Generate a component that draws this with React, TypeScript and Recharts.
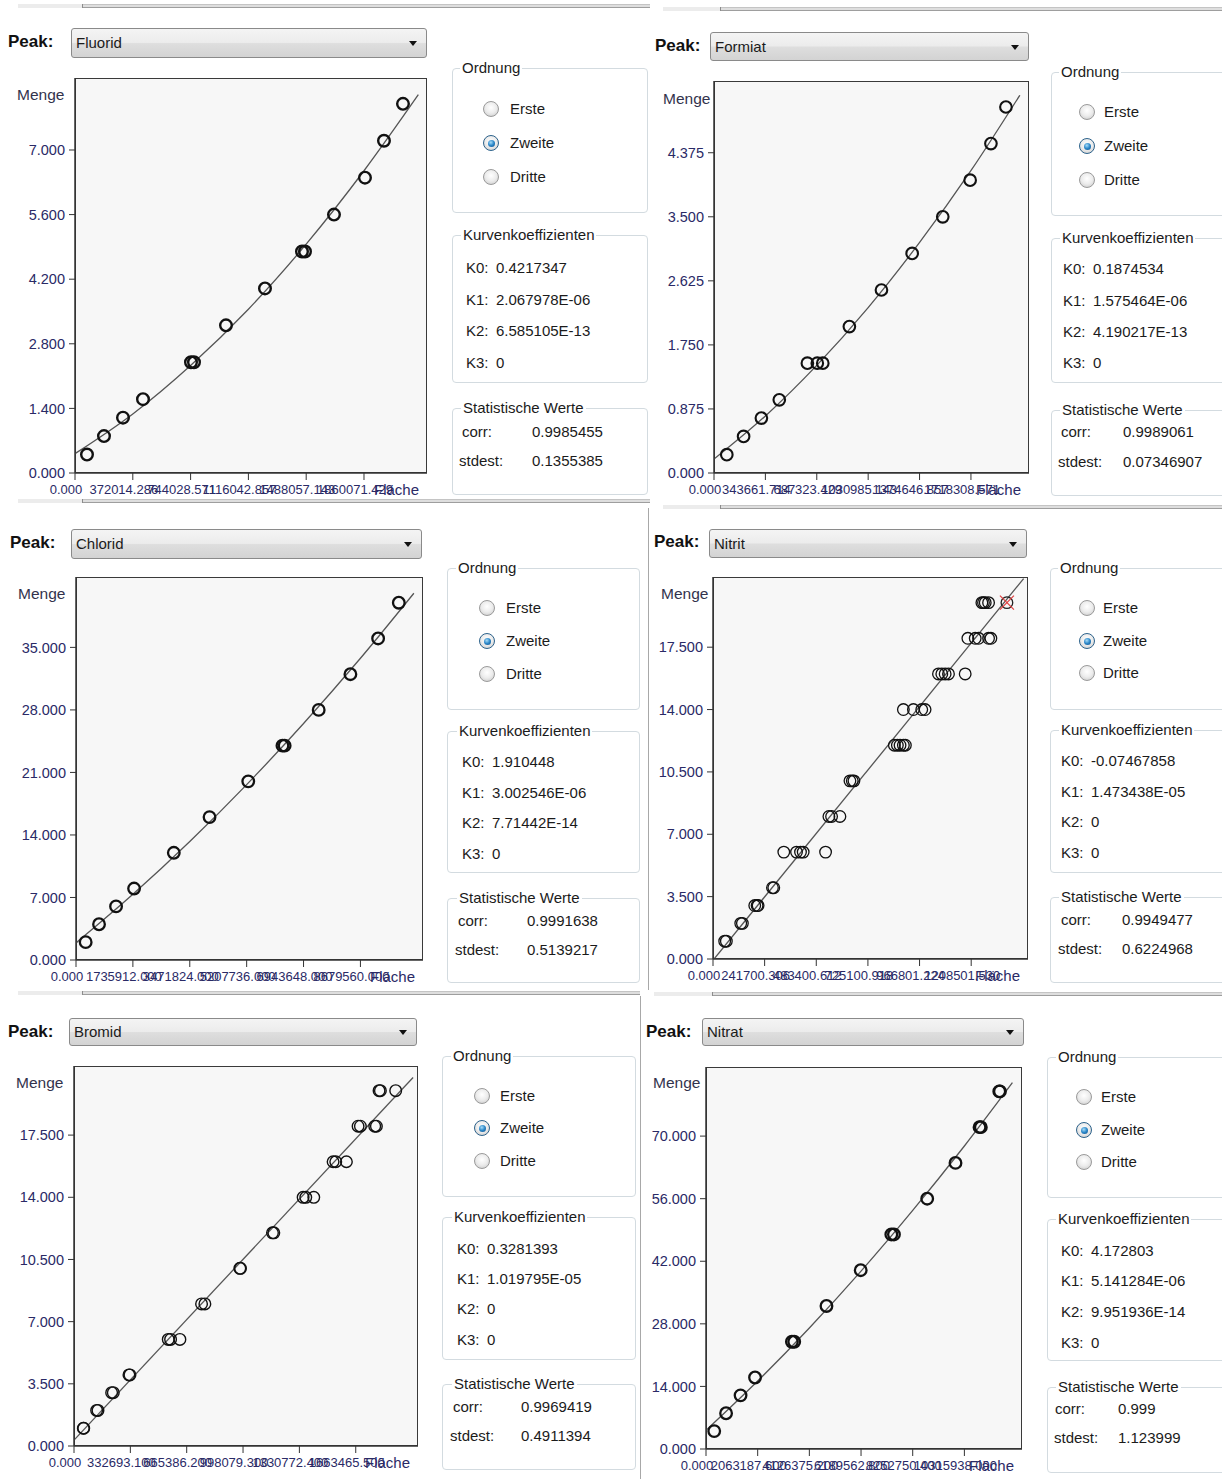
import React from 'react'
import { ComposedChart, Line, Scatter, XAxis, YAxis } from 'recharts'

const FONT = '"Liberation Sans", Arial, sans-serif'
const NAVY = '#2a2a66'
const INK = '#1b1b1b'

// Fluorid: measured points [Fläche, Menge], fitted curve, axis ticks
const fluoridPoints = [
  [77200, 0.4], [186600, 0.8], [308900, 1.2], [437600, 1.6], [746600, 2.4], [765900, 2.4],
  [971800, 3.2], [1222800, 4.0], [1461000, 4.8], [1480300, 4.8], [1666900, 5.6],
  [1866400, 6.4], [1988700, 7.2], [2111000, 8.0]
]
const fluoridFit = [
  [0, 0.42], [372000, 1.28], [744000, 2.33], [1116000, 3.55], [1488000, 4.96], [1860000, 6.55], [2210000, 8.2]
]
const fluoridXTicks = [0, 372014.286, 744028.571, 1116042.857, 1488057.143, 1860071.429]
const fluoridYTicks = [0, 1.4, 2.8, 4.2, 5.6, 7.0]
const fluoridRange = [2265600, 8.56]
const fluoridCoef = ['0.4217347', '2.067978E-06', '6.585105E-13', '0']
const fluoridStats = ['0.9985455', '0.1355385']

// Formiat
const formiatPoints = [
  [85600, 0.25], [197900, 0.5], [316900, 0.75], [436600, 1.0], [624500, 1.5], [690700, 1.5],
  [727400, 1.5], [905300, 2.0], [1119900, 2.5], [1325200, 3.0], [1529800, 3.5], [1713000, 4.0],
  [1852000, 4.5], [1952300, 5.0]
]
const formiatFit = [
  [0, 0.19], [344000, 0.78], [687000, 1.47], [1031000, 2.26], [1375000, 3.15], [1718000, 4.13], [2045000, 5.16]
]
const formiatXTicks = [0, 343661.714, 687323.429, 1030985.143, 1374646.857, 1718308.571]
const formiatYTicks = [0, 0.875, 1.75, 2.625, 3.5, 4.375]
const formiatRange = [2106600, 5.355]
const formiatCoef = ['0.1874534', '1.575464E-06', '4.190217E-13', '0']
const formiatStats = ['0.9989061', '0.07346907']

// Chlorid
const chloridPoints = [
  [295400, 2], [702900, 4], [1222400, 6], [1772500, 8], [2984800, 12], [4074800, 16],
  [5256500, 20], [6300000, 24], [6366900, 24], [7405900, 28], [8373700, 32], [9219200, 36], [9850800, 40]
]
const chloridFit = [
  [0, 1.91], [1736000, 7.35], [3472000, 13.26], [5208000, 19.64], [6944000, 26.48], [8680000, 33.78], [10310000, 41.06]
]
const chloridXTicks = [0, 1735912, 3471824, 5207736, 6943648, 8679560]
const chloridYTicks = [0, 7, 14, 21, 28, 35]
const chloridRange = [10589000, 42.88]
const chloridCoef = ['1.910448', '3.002546E-06', '7.71442E-14', '0']
const chloridStats = ['0.9991638', '0.5139217']

// Nitrit
const nitritPoints = [
  [54700, 1], [62500, 1], [129800, 2], [137600, 2], [195400, 3], [206400, 3], [211100, 3],
  [278300, 4], [284500, 4], [331400, 6], [390900, 6], [409600, 6], [422100, 6], [526900, 6],
  [542500, 8], [555000, 8], [594100, 8], [641000, 10], [651900, 10], [659700, 10],
  [848900, 12], [863000, 12], [875500, 12], [891100, 12], [900500, 12],
  [891100, 14], [938000, 14], [977100, 14], [992700, 14],
  [1055300, 16], [1070900, 16], [1086600, 16], [1102200, 16], [1180400, 16],
  [1192900, 18], [1227300, 18], [1242900, 18], [1289800, 18], [1300700, 18],
  [1258500, 20], [1266000, 20], [1274200, 20], [1289800, 20]
]
const nitritExcluded = [[1375800, 20]]
const nitritFit = [[5000, 0], [1454000, 21.35]]
const nitritXTicks = [0, 241700.306, 483400.612, 725100.918, 966801.224, 1208501.53]
const nitritYTicks = [0, 3.5, 7, 10.5, 14, 17.5]
const nitritRange = [1474400, 21.44]
const nitritCoef = ['-0.07467858', '1.473438E-05', '0', '0']
const nitritStats = ['0.9949477', '0.6224968']

// Bromid
const bromidPoints = [
  [55100, 1], [57500, 1], [133700, 2], [141600, 2], [222200, 3], [232000, 3], [324400, 4], [330300, 4],
  [556500, 6], [570200, 6], [625300, 6], [753100, 8], [772800, 8], [979200, 10], [983000, 10],
  [1171900, 12], [1179800, 12], [1352800, 14], [1368500, 14], [1415700, 14],
  [1529800, 16], [1545500, 16], [1608400, 16], [1677300, 18], [1691000, 18], [1775600, 18],
  [1785400, 18], [1801100, 20], [1809000, 20], [1899400, 20]
]
const bromidFit = [[0, 0.33], [2002000, 20.74]]
const bromidXTicks = [0, 332693.1, 665386.2, 998079.3, 1330772.4, 1663465.5]
const bromidYTicks = [0, 3.5, 7, 10.5, 14, 17.5]
const bromidRange = [2031100, 21.39]
const bromidCoef = ['0.3281393', '1.019795E-05', '0', '0']
const bromidStats = ['0.9969419', '0.4911394']

// Nitrat
const nitratPoints = [
  [328500, 4], [801600, 8], [1379800, 12], [1958100, 16], [3429900, 24], [3521900, 24],
  [4809700, 32], [6176400, 40], [7398600, 48], [7503700, 48], [8831000, 56], [9961100, 64],
  [10920400, 72], [10973000, 72], [11708900, 80], [11735200, 80]
]
const nitratFit = [
  [0, 4.17], [2063000, 15.2], [4126000, 27.08], [6190000, 39.8], [8253000, 53.38], [10316000, 67.79], [12235000, 81.97]
]
const nitratXTicks = [0, 2063187.6, 4126375.2, 6189562.8, 8252750.4, 10315938]
const nitratYTicks = [0, 14, 28, 42, 56, 70]
const nitratRange = [12616000, 85.46]
const nitratCoef = ['4.172803', '5.141284E-06', '9.951936E-14', '0']
const nitratStats = ['0.999', '1.123999']

const toXY = (arr: number[][]) => arr.map(([x, y]) => ({ x, y }))

const panels = [
  {
    name: 'Fluorid', points: fluoridPoints, fit: fluoridFit, xTicks: fluoridXTicks, yTicks: fluoridYTicks,
    range: fluoridRange, coef: fluoridCoef, stats: fluoridStats, ring: 2.4,
    peak: [8, 42], combo: [71, 28, 427, 58], box: [75, 78, 427, 473], menge: [17, 95],
    gx: 452, gw: 196, ord: [68, 213], ordX: 462, radioX: 491, radioY: [109, 143, 177], labelX: 510,
    kur: [235, 383], kurX: 463, kX: 466, kY: [268, 300, 331, 363],
    stat: [408, 495], statX: 463, corr: [462, 432], sd: [459, 461], valX: 532
  },
  {
    name: 'Formiat', points: formiatPoints, fit: formiatFit, xTicks: formiatXTicks, yTicks: formiatYTicks,
    range: formiatRange, coef: formiatCoef, stats: formiatStats, ring: 2.1,
    peak: [655, 46], combo: [710, 32, 1029, 61], box: [714, 81, 1029, 473], menge: [663, 99],
    gx: 1051, gw: 200, ord: [72, 216], ordX: 1061, radioX: 1087, radioY: [112, 146, 180], labelX: 1104,
    kur: [238, 383], kurX: 1062, kX: 1063, kY: [269, 301, 332, 363],
    stat: [410, 496], statX: 1062, corr: [1061, 432], sd: [1058, 462], valX: 1123
  },
  {
    name: 'Chlorid', points: chloridPoints, fit: chloridFit, xTicks: chloridXTicks, yTicks: chloridYTicks,
    range: chloridRange, coef: chloridCoef, stats: chloridStats, ring: 2.3,
    peak: [10, 543], combo: [71, 529, 422, 559], box: [76, 577, 423, 960], menge: [18, 594],
    gx: 447, gw: 193, ord: [568, 710], ordX: 458, radioX: 487, radioY: [608, 641, 674], labelX: 506,
    kur: [731, 873], kurX: 459, kX: 462, kY: [762, 793, 823, 854],
    stat: [898, 983], statX: 459, corr: [458, 921], sd: [455, 950], valX: 527
  },
  {
    name: 'Nitrit', points: nitritPoints, fit: nitritFit, xTicks: nitritXTicks, yTicks: nitritYTicks,
    range: nitritRange, coef: nitritCoef, stats: nitritStats, ring: 1.3, excluded: nitritExcluded,
    peak: [654, 542], combo: [709, 529, 1027, 558], box: [713, 577, 1028, 959], menge: [661, 594],
    gx: 1050, gw: 200, ord: [568, 710], ordX: 1060, radioX: 1087, radioY: [608, 641, 673], labelX: 1103,
    kur: [730, 873], kurX: 1061, kX: 1061, kY: [761, 792, 822, 853],
    stat: [897, 983], statX: 1061, corr: [1061, 920], sd: [1058, 949], valX: 1122
  },
  {
    name: 'Bromid', points: bromidPoints, fit: bromidFit, xTicks: bromidXTicks, yTicks: bromidYTicks,
    range: bromidRange, coef: bromidCoef, stats: bromidStats, ring: 1.4,
    peak: [8, 1032], combo: [69, 1018, 417, 1046], box: [74, 1066, 418, 1446], menge: [16, 1083],
    gx: 442, gw: 194, ord: [1056, 1197], ordX: 453, radioX: 482, radioY: [1096, 1128, 1161], labelX: 500,
    kur: [1217, 1360], kurX: 454, kX: 457, kY: [1249, 1279, 1309, 1340],
    stat: [1384, 1470], statX: 454, corr: [453, 1407], sd: [450, 1436], valX: 521
  },
  {
    name: 'Nitrat', points: nitratPoints, fit: nitratFit, xTicks: nitratXTicks, yTicks: nitratYTicks,
    range: nitratRange, coef: nitratCoef, stats: nitratStats, ring: 2.3,
    peak: [646, 1032], combo: [702, 1018, 1024, 1046], box: [706, 1067, 1022, 1449], menge: [653, 1083],
    gx: 1047, gw: 200, ord: [1057, 1198], ordX: 1058, radioX: 1084, radioY: [1097, 1130, 1162], labelX: 1101,
    kur: [1219, 1361], kurX: 1058, kX: 1061, kY: [1251, 1281, 1312, 1343],
    stat: [1387, 1473], statX: 1058, corr: [1055, 1409], sd: [1054, 1438], valX: 1118
  }
]

const separators = [
  { x: 18, w: 632, y: 4, thumb: 64 },
  { x: 663, w: 560, y: 7, thumb: 57 },
  { x: 18, w: 632, y: 499, thumb: 64 },
  { x: 663, w: 560, y: 505, thumb: 57 },
  { x: 18, w: 622, y: 991, thumb: 64 },
  { x: 654, w: 570, y: 992, thumb: 58 }
]

function XTickLabel(props: any) {
  const { x, y, payload } = props
  return (
    <text x={x - 9} y={y} dy="0.71em" textAnchor="middle" fill={NAVY} fontSize={13} fontFamily={FONT}>
      {Number(payload.value).toFixed(3)}
    </text>
  )
}

function CalChart({ p }: { p: any }) {
  const [L, T, R, B] = p.box
  const w = R - L + 80
  const h = B - T + 40
  const ring = (s: any) => (
    <circle cx={s.cx} cy={s.cy} r={5.8} fill="none" stroke="#111" strokeWidth={p.ring} />
  )
  const crossed = (s: any) => (
    <g>
      <circle cx={s.cx} cy={s.cy} r={5.8} fill="none" stroke="#222" strokeWidth={1.3} />
      <line x1={s.cx - 7} y1={s.cy - 7} x2={s.cx + 7} y2={s.cy + 7} stroke="#e04040" strokeWidth={1.3} />
      <line x1={s.cx - 7} y1={s.cy + 7} x2={s.cx + 7} y2={s.cy - 7} stroke="#e04040" strokeWidth={1.3} />
    </g>
  )
  return (
    <div style={{ position: 'absolute', left: L - 70, top: T - 10, width: w, height: h }}>
      <div
        style={{
          position: 'absolute', left: 70, top: 10, width: R - L, height: B - T,
          background: '#f7f7f7', border: '1.5px solid #3a3a3a', boxSizing: 'border-box'
        }}
      />
      <ComposedChart width={w} height={h} margin={{ top: 10, right: 10, bottom: 0, left: 0 }}>
        <XAxis
          type="number" dataKey="x" domain={[0, p.range[0]]} ticks={p.xTicks} interval={0}
          allowDataOverflow height={30} tickSize={7} tickMargin={5}
          axisLine={{ stroke: '#333', strokeWidth: 1.5 }} tickLine={{ stroke: '#333' }}
          tick={(t: any) => <XTickLabel {...t} />}
        />
        <YAxis
          type="number" dataKey="y" domain={[0, p.range[1]]} ticks={p.yTicks} interval={0}
          allowDataOverflow width={70} tickSize={6} tickMargin={4}
          axisLine={{ stroke: '#333', strokeWidth: 1.5 }} tickLine={{ stroke: '#333' }}
          tick={{ fill: NAVY, fontSize: 14.5, fontFamily: FONT }}
          tickFormatter={(v: number) => v.toFixed(3)}
        />
        <Line
          data={toXY(p.fit)} dataKey="y" type="monotone" stroke="#555" strokeWidth={1.3}
          dot={false} isAnimationActive={false}
        />
        <Scatter data={toXY(p.points)} dataKey="y" shape={ring} isAnimationActive={false} />
        {p.excluded && (
          <Scatter data={toXY(p.excluded)} dataKey="y" shape={crossed} isAnimationActive={false} />
        )}
      </ComposedChart>
      <span
        style={{
          position: 'absolute', right: 18, top: h - 21, fontSize: 15, color: NAVY,
          fontFamily: FONT, lineHeight: '16px', whiteSpace: 'nowrap'
        }}
      >
        Fläche
      </span>
    </div>
  )
}

function Txt({ x, y, children, style }: any) {
  return (
    <div
      style={{
        position: 'absolute', left: x, top: y - 9, lineHeight: '18px', fontSize: 15,
        color: INK, whiteSpace: 'nowrap', ...style
      }}
    >
      {children}
    </div>
  )
}

function GroupBox({ x, w, top, bottom, title, titleX }: any) {
  return (
    <div
      style={{
        position: 'absolute', left: x, top, width: w, height: bottom - top,
        border: '1px solid #d3dbe0', borderRadius: 4, boxSizing: 'border-box'
      }}
    >
      <div
        style={{
          position: 'absolute', left: titleX - x - 3, top: -10, padding: '0 2px', background: '#fff',
          fontSize: 15, lineHeight: '18px', color: INK, whiteSpace: 'nowrap'
        }}
      >
        {title}
      </div>
    </div>
  )
}

function Radio({ x, y, checked }: any) {
  return (
    <div
      style={{
        position: 'absolute', left: x - 8, top: y - 8, width: 16, height: 16, borderRadius: '50%',
        boxSizing: 'border-box',
        border: checked ? '1px solid #2c628b' : '1px solid #9a9a9a',
        background: 'radial-gradient(circle at 50% 40%, #ffffff 0%, #ececec 50%, #c4c4c4 100%)'
      }}
    >
      {checked && (
        <div
          style={{
            position: 'absolute', left: 3.5, top: 3.5, width: 7, height: 7, borderRadius: '50%',
            background: 'radial-gradient(circle at 40% 35%, #a6dcf8 0%, #2a86c8 50%, #124f86 100%)'
          }}
        />
      )}
    </div>
  )
}

function Panel({ p }: { p: any }) {
  const [cx1, cy1, cx2, cy2] = p.combo
  return (
    <>
      <Txt x={p.peak[0]} y={p.peak[1]} style={{ fontWeight: 'bold', fontSize: 17, color: '#111' }}>
        Peak:
      </Txt>
      <div
        style={{
          position: 'absolute', left: cx1, top: cy1, width: cx2 - cx1, height: cy2 - cy1,
          boxSizing: 'border-box', border: '1px solid #8a8a8a', borderRadius: 3,
          background: 'linear-gradient(#f4f4f4 0%, #ececec 48%, #dedede 52%, #d3d3d3 100%)'
        }}
      >
        <div style={{ position: 'absolute', left: 4, top: 0, lineHeight: `${cy2 - cy1 - 2}px`, fontSize: 15, color: INK }}>
          {p.name}
        </div>
        <div
          style={{
            position: 'absolute', right: 9, top: (cy2 - cy1) / 2 - 3, width: 0, height: 0,
            borderLeft: '4.5px solid transparent', borderRight: '4.5px solid transparent',
            borderTop: '5px solid #111'
          }}
        />
      </div>
      <CalChart p={p} />
      <Txt x={p.menge[0]} y={p.menge[1]} style={{ fontSize: 15.5, color: '#33334d' }}>
        Menge
      </Txt>

      <GroupBox x={p.gx} w={p.gw} top={p.ord[0]} bottom={p.ord[1]} title="Ordnung" titleX={p.ordX} />
      {['Erste', 'Zweite', 'Dritte'].map((label, i) => (
        <React.Fragment key={label}>
          <Radio x={p.radioX} y={p.radioY[i]} checked={i === 1} />
          <Txt x={p.labelX} y={p.radioY[i]}>{label}</Txt>
        </React.Fragment>
      ))}

      <GroupBox x={p.gx} w={p.gw} top={p.kur[0]} bottom={p.kur[1]} title="Kurvenkoeffizienten" titleX={p.kurX} />
      {p.coef.map((v: string, i: number) => (
        <React.Fragment key={i}>
          <Txt x={p.kX} y={p.kY[i]}>{`K${i}:`}</Txt>
          <Txt x={p.kX + 30} y={p.kY[i]}>{v}</Txt>
        </React.Fragment>
      ))}

      <GroupBox x={p.gx} w={p.gw} top={p.stat[0]} bottom={p.stat[1]} title="Statistische Werte" titleX={p.statX} />
      <Txt x={p.corr[0]} y={p.corr[1]}>corr:</Txt>
      <Txt x={p.valX} y={p.corr[1]}>{p.stats[0]}</Txt>
      <Txt x={p.sd[0]} y={p.sd[1]}>stdest:</Txt>
      <Txt x={p.valX} y={p.sd[1]}>{p.stats[1]}</Txt>
    </>
  )
}

export default function App() {
  return (
    <div
      style={{
        position: 'absolute', left: 0, top: 0, width: 1222, height: 1479, background: '#fff',
        overflow: 'hidden', fontFamily: FONT
      }}
    >
      {separators.map((s, i) => (
        <div
          key={i}
          style={{
            position: 'absolute', left: s.x, top: s.y, width: s.w, height: 4, boxSizing: 'border-box',
            background: '#dedede', borderTop: '1px solid #c4c4c4', borderBottom: '1px solid #9e9e9e'
          }}
        >
          <div
            style={{
              position: 'absolute', left: 0, top: -1, width: s.thumb, height: 4,
              background: '#ececec', borderRight: '1px solid #8c8c8c'
            }}
          />
        </div>
      ))}
      <div style={{ position: 'absolute', left: 648, top: 508, width: 1, height: 482, background: '#a8a8a8' }} />
      <div style={{ position: 'absolute', left: 640, top: 996, width: 1, height: 483, background: '#a8a8a8' }} />
      {panels.map((p) => (
        <Panel key={p.name} p={p} />
      ))}
    </div>
  )
}
